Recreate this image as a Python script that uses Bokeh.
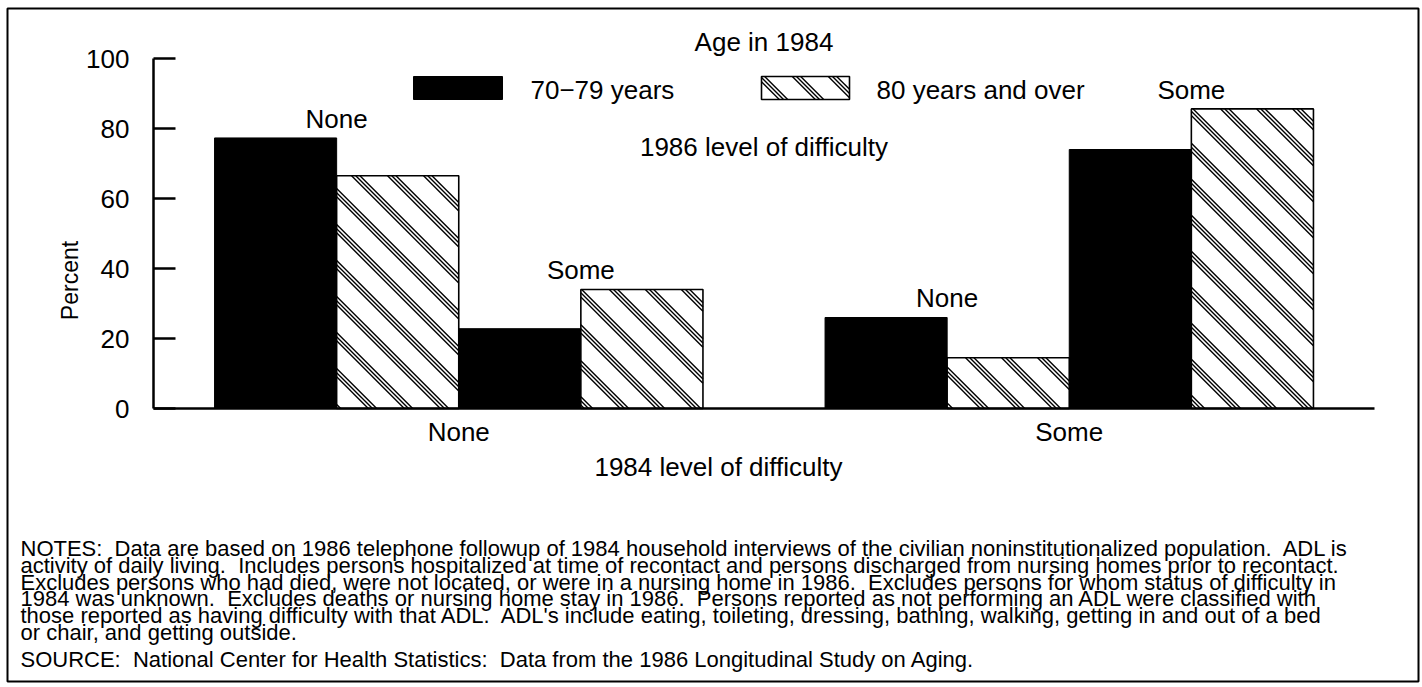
import math
from bokeh.plotting import figure
from bokeh.models import ColumnDataSource, Label, FixedTicker
from bokeh.core.properties import value
from bokeh.embed import file_html
from bokeh.resources import INLINE

# ---------------- data ----------------
level_1984 = ["None", "Some"]            # x-axis groups (1984 level of difficulty)
level_1986 = ["None", "Some"]            # labels above bar pairs (1986 level of difficulty)
age_groups = ["70\u221279 years", "80 years and over"]
# percent, ordered (1984 None,1986 None), (1984 None,1986 Some), (1984 Some,1986 None), (1984 Some,1986 Some)
pct_70_79 = [77.3, 22.8, 26.0, 74.0]
pct_80_over = [66.5, 34.0, 14.5, 85.6]
y_ticks = [0, 20, 40, 60, 80, 100]

notes_lines = [
    "NOTES:  Data are based on 1986 telephone followup of 1984 household interviews of the civilian noninstitutionalized population.  ADL is",
    "activity of daily living.  Includes persons hospitalized at time of recontact and persons discharged from nursing homes prior to recontact.",
    "Excludes persons who had died, were not located, or were in a nursing home in 1986.  Excludes persons for whom status of difficulty in",
    "1984 was unknown.  Excludes deaths or nursing home stay in 1986.  Persons reported as not performing an ADL were classified with",
    "those reported as having difficulty with that ADL.  ADL's include eating, toileting, dressing, bathing, walking, getting in and out of a bed",
    "or chair, and getting outside.",
]
source_line = "SOURCE:  National Center for Health Statistics:  Data from the 1986 Longitudinal Study on Aging."

FONT = "Liberation Sans"
BIG = "26px"
NOTE = "22px"

# ---------------- page geometry (pixels) ----------------
W, H = 1422, 687
FL, FR, FT, FB = 7, 1418, 8, 681      # outer boxed frame
X0, SX = 153.0, 122.1                 # px of x=0, px per bar slot
Y0, SY = 408.0, 3.5                   # px of 0 %, px per percent


def dx(px):
    return (px - X0) / SX


def dy(py):
    return (Y0 - py) / SY


def keep_spaces(s):
    return s.replace("  ", "\u00a0 ")


def hatch(x_left, x_right, y_bottom, y_top, spacing=36.0, offsets=(-4.2, 0.0, 4.2)):
    """diagonal triple-line hatching clipped to a rectangle given in data units"""
    L, R = X0 + SX * x_left, X0 + SX * x_right
    T, B = Y0 - SY * y_top, Y0 - SY * y_bottom
    out = dict(x0=[], y0=[], x1=[], y1=[])
    kmin = int(math.floor((T - R) / spacing)) - 1
    kmax = int(math.ceil((B - L) / spacing)) + 1
    for k in range(kmin, kmax + 1):
        for d in offsets:
            c = k * spacing + d
            xa, xb = max(L, T - c), min(R, B - c)
            if xb - xa > 0.8:
                out["x0"].append(dx(xa)); out["y0"].append(dy(xa + c))
                out["x1"].append(dx(xb)); out["y1"].append(dy(xb + c))
    return out


# ---------------- bar slots (1 slot = 1 bar width) ----------------
x_black, x_hatch, lab_x, lab_y, lab_t = [], [], [], [], []
for g in range(len(level_1984)):
    for l in range(len(level_1986)):
        i = g * 2 + l
        base = 1 + 5 * g + 2 * l
        x_black.append(base)
        x_hatch.append(base + 1)
        lab_x.append(base + 0.5)
        lab_y.append(max(pct_70_79[i], pct_80_over[i]) + 5.5)
        lab_t.append(level_1986[l])

src_black = ColumnDataSource(dict(x=x_black, top=pct_70_79))
src_hatch = ColumnDataSource(dict(x=x_hatch, top=pct_80_over))
src_lab = ColumnDataSource(dict(x=lab_x, y=lab_y, t=lab_t))

p = figure(width=W, height=H, x_range=(dx(FL), dx(FR)), y_range=(dy(FB), dy(FT)),
           output_backend="svg", toolbar_location=None,
           min_border_left=FL, min_border_right=W - FR, min_border_top=FT, min_border_bottom=H - FB)
p.grid.visible = False
p.outline_line_color = "black"
p.outline_line_width = 2
p.background_fill_color = "white"
p.border_fill_color = "white"

p.vbar(x="x", top="top", width=1.0, source=src_black,
       fill_color="black", line_color="black", line_width=1)
p.vbar(x="x", top="top", width=1.0, source=src_hatch,
       fill_color="white", line_color=None)

hs = dict(x0=[], y0=[], x1=[], y1=[])
for xc, t in zip(x_hatch, pct_80_over):
    h = hatch(xc - 0.5, xc + 0.5, 0, t)
    for k in hs:
        hs[k] += h[k]
p.segment(x0="x0", y0="y0", x1="x1", y1="y1", source=ColumnDataSource(hs),
          line_color="black", line_width=1.4)
p.vbar(x="x", top="top", width=1.0, source=src_hatch,
       fill_alpha=0, line_color="black", line_width=1.6)

p.text(x="x", y="y", text="t", source=src_lab, text_align="center",
       text_baseline="middle", text_font=value(FONT), text_font_size=BIG,
       text_color="black")

# y axis
ya = p.yaxis[0]
ya.fixed_location = 0
ya.bounds = (0, 100)
ya.ticker = FixedTicker(ticks=y_ticks)
ya.minor_tick_line_color = None
ya.major_tick_in = 22
ya.major_tick_out = 0
ya.major_tick_line_width = 2.5
ya.axis_line_width = 2.5
ya.major_label_standoff = 24
ya.major_label_text_font = FONT
ya.major_label_text_font_size = BIG
ya.major_label_text_color = "black"

# x axis
xa = p.xaxis[0]
xa.fixed_location = 0
xa.bounds = (0, 10)
xa.ticker = FixedTicker(ticks=[2.5, 7.5])
xa.major_label_overrides = {2.5: level_1984[0], 7.5: level_1984[1]}
xa.major_tick_line_color = None
xa.minor_tick_line_color = None
xa.axis_line_width = 2.5
xa.major_label_standoff = 2
xa.major_label_text_font = FONT
xa.major_label_text_font_size = BIG
xa.major_label_text_color = "black"

# legend (drawn by hand so the hatched swatch matches the bars)
sw_top, sw_bot = dy(76), dy(99)
p.quad(left=[dx(413)], right=[dx(502)], bottom=[sw_bot], top=[sw_top],
       fill_color="black", line_color="black")
p.quad(left=[dx(761)], right=[dx(849)], bottom=[sw_bot], top=[sw_top],
       fill_color="white", line_color=None)
p.segment(x0="x0", y0="y0", x1="x1", y1="y1",
          source=ColumnDataSource(hatch(dx(761), dx(849), sw_bot, sw_top)),
          line_color="black", line_width=1.4)
p.quad(left=[dx(761)], right=[dx(849)], bottom=[sw_bot], top=[sw_top],
       fill_alpha=0, line_color="black", line_width=1.6)
p.add_layout(Label(x=dx(530), y=dy(89), text=age_groups[0], text_align="left",
                   text_baseline="middle", text_font=FONT, text_font_size=BIG,
                   text_color="black"))
p.add_layout(Label(x=dx(876), y=dy(89), text=age_groups[1], text_align="left",
                   text_baseline="middle", text_font=FONT, text_font_size=BIG,
                   text_color="black"))

# free texts
p.add_layout(Label(x=5, y=dy(41), text="Age in 1984", text_align="center",
                   text_baseline="middle", text_font=FONT, text_font_size=BIG,
                   text_color="black"))
p.add_layout(Label(x=5, y=dy(146), text="1986 level of difficulty", text_align="center",
                   text_baseline="middle", text_font=FONT, text_font_size=BIG,
                   text_color="black"))
p.add_layout(Label(x=dx(718), y=dy(466), text="1984 level of difficulty", text_align="center",
                   text_baseline="middle", text_font=FONT, text_font_size=BIG,
                   text_color="black"))
p.add_layout(Label(x=dx(69), y=dy(280), text="Percent", angle=math.pi / 2,
                   text_align="center", text_baseline="middle", text_font=FONT,
                   text_font_size="23px", text_color="black"))

for i, line in enumerate(notes_lines):
    p.add_layout(Label(x=dx(20), y=dy(548 + 16.8 * i), text=keep_spaces(line), text_align="left",
                       text_baseline="middle", text_font=FONT, text_font_size=NOTE,
                       text_color="black"))
p.add_layout(Label(x=dx(20), y=dy(659), text=keep_spaces(source_line), text_align="left",
                   text_baseline="middle", text_font=FONT, text_font_size=NOTE,
                   text_color="black"))

open("out.html", "w").write(file_html(p, INLINE))
